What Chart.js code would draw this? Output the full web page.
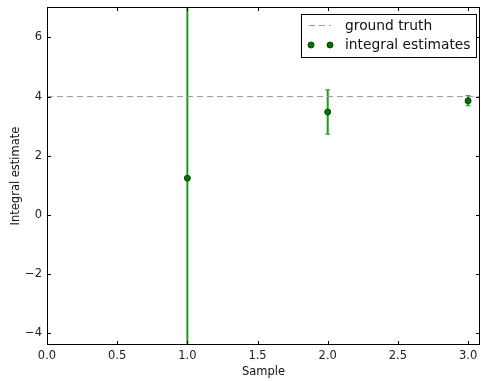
<!DOCTYPE html>
<html><head><meta charset="utf-8">
<script src="https://cdn.jsdelivr.net/npm/chart.js@4"></script>
<style>html,body{margin:0;padding:0;background:#fff}#wrap{width:481px;height:381px}</style>
</head><body><div id="wrap"><canvas id="c" width="481" height="381"></canvas></div>
<script>
const samples = [1, 2, 3];
const estimates = [1.24, 3.48, 3.86];
const errors = [9.0, 0.75, 0.17];
const groundTruth = 4;
const xRange = [0, 3.085];
const yRange = [-4.4, 7.03];
const xTicks = [0, 0.5, 1, 1.5, 2, 2.5, 3];
const yTicks = [-4, -2, 0, 2, 4, 6];
const legendLabels = ['ground truth', 'integral estimates'];

const FONT = 'DejaVu Sans';
const green = '#1c9a1c';
const markerFill = '#007000';
const markerEdge = '#004a00';

const errorBars = {
  id: 'errorBars',
  beforeDatasetsDraw(chart) {
    const ctx = chart.ctx, x = chart.scales.x, y = chart.scales.y, a = chart.chartArea;
    ctx.save();
    ctx.beginPath(); ctx.rect(a.left, a.top, a.right - a.left, a.bottom - a.top); ctx.clip();
    ctx.strokeStyle = green; ctx.lineWidth = 2;
    samples.forEach((s, i) => {
      const px = x.getPixelForValue(s);
      const lo = y.getPixelForValue(estimates[i] - errors[i]);
      const hi = y.getPixelForValue(estimates[i] + errors[i]);
      ctx.beginPath(); ctx.moveTo(px, lo); ctx.lineTo(px, hi); ctx.stroke();
      ctx.lineWidth = 1;
      ctx.beginPath(); ctx.moveTo(px - 2.5, lo); ctx.lineTo(px + 2.5, lo);
      ctx.moveTo(px - 2.5, hi); ctx.lineTo(px + 2.5, hi); ctx.stroke();
      ctx.lineWidth = 2;
    });
    ctx.restore();
  }
};

const frame = {
  id: 'frame',
  afterDraw(chart) {
    const ctx = chart.ctx, x = chart.scales.x, y = chart.scales.y, a = chart.chartArea;
    ctx.save();
    ctx.strokeStyle = '#000'; ctx.lineWidth = 1;
    ctx.strokeRect(Math.round(a.left) + 0.5, Math.round(a.top) + 0.5, Math.round(a.right - a.left) - 1, Math.round(a.bottom - a.top) - 1);
    ctx.beginPath();
    xTicks.forEach(v => {
      const p = Math.round(x.getPixelForValue(v)) + 0.5;
      ctx.moveTo(p, a.bottom); ctx.lineTo(p, a.bottom - 4);
      ctx.moveTo(p, a.top); ctx.lineTo(p, a.top + 4);
    });
    yTicks.forEach(v => {
      const p = Math.round(y.getPixelForValue(v)) + 0.5;
      ctx.moveTo(a.left, p); ctx.lineTo(a.left + 4, p);
      ctx.moveTo(a.right, p); ctx.lineTo(a.right - 4, p);
    });
    ctx.stroke();
    // legend
    const lx = 301.5, ly = 14.5, lw = 175, lh = 43;
    ctx.fillStyle = '#fff'; ctx.fillRect(lx, ly, lw, lh);
    ctx.strokeRect(lx, ly, lw, lh);
    ctx.strokeStyle = '#999'; ctx.setLineDash([6, 4]);
    ctx.beginPath(); ctx.moveTo(309, 25.5); ctx.lineTo(331, 25.5); ctx.stroke();
    ctx.setLineDash([]);
    [311, 330].forEach(cx => {
      ctx.beginPath(); ctx.arc(cx, 45, 3, 0, Math.PI * 2);
      ctx.fillStyle = markerFill; ctx.fill();
      ctx.strokeStyle = markerEdge; ctx.stroke();
    });
    ctx.fillStyle = '#111'; ctx.font = '13.8px "' + FONT + '"';
    ctx.textBaseline = 'middle'; ctx.textAlign = 'left';
    ctx.fillText(legendLabels[0], 345, 26);
    ctx.fillText(legendLabels[1], 345, 45.5);
    ctx.restore();
  }
};

function noPad(s) { s.paddingLeft = 0; s.paddingRight = 0; s.paddingTop = 0; s.paddingBottom = 0; }

new Chart(document.getElementById('c'), {
  type: 'scatter',
  data: {
    datasets: [
      {
        type: 'line',
        label: legendLabels[0],
        data: [{x: xRange[0], y: groundTruth}, {x: xRange[1], y: groundTruth}],
        borderColor: '#999', borderWidth: 1, borderDash: [6, 4],
        pointRadius: 0, fill: false
      },
      {
        label: legendLabels[1],
        data: samples.map((s, i) => ({x: s, y: estimates[i]})),
        pointRadius: 3, pointBackgroundColor: markerFill,
        pointBorderColor: markerEdge, pointBorderWidth: 1
      }
    ]
  },
  options: {
    responsive: false, animation: false,
    layout: {autoPadding: false, padding: {top: 7, right: 1, left: 0, bottom: 0}},
    plugins: {legend: {display: false}, tooltip: {enabled: false}},
    scales: {
      x: {
        type: 'linear', min: xRange[0], max: xRange[1],
        afterBuildTicks: s => { s.ticks = xTicks.map(v => ({value: v})); },
        afterFit: s => { s.height = 36; noPad(s); },
        grid: {display: false, drawTicks: false}, border: {display: false},
        ticks: {padding: 4, color: '#222', font: {family: FONT, size: 11.5}, callback: v => v.toFixed(1)},
        title: {display: true, text: 'Sample', color: '#111', font: {family: FONT, size: 11.5}, padding: {top: 0, bottom: 2}}
      },
      y: {
        min: yRange[0], max: yRange[1],
        afterBuildTicks: s => { s.ticks = yTicks.map(v => ({value: v})); },
        afterFit: s => { s.width = 47; noPad(s); },
        grid: {display: false, drawTicks: false}, border: {display: false},
        ticks: {padding: 5, color: '#222', font: {family: FONT, size: 11.5}, callback: v => (v < 0 ? '\u2212' + Math.abs(v) : String(v))},
        title: {display: true, text: 'Integral estimate', color: '#111', font: {family: FONT, size: 11.5}, padding: {top: 9, bottom: 0}}
      }
    }
  },
  plugins: [errorBars, frame]
});
</script></body></html>
